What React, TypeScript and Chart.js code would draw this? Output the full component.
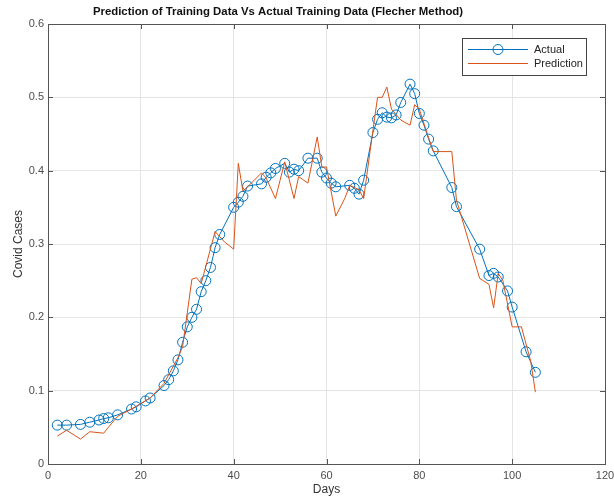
import React, { useEffect, useRef } from "react";
import { Chart, registerables } from "chart.js";

Chart.register(...registerables);

const chartTitle = "Prediction of Training Data Vs Actual Training Data (Flecher Method)";
const xTitle = "Days";
const yTitle = "Covid Cases";
const seriesNames = ["Actual", "Prediction"];

const actualDays = [2, 4, 7, 9, 11, 12, 13, 15, 18, 19, 21, 22, 25, 26, 27, 28, 29, 30, 31, 32, 33, 34, 35, 36, 37, 40, 41, 42, 43, 46, 47, 48, 49, 51, 52, 53, 54, 56, 58, 59, 60, 61, 62, 65, 66, 67, 68, 70, 71, 72, 73, 74, 75, 76, 78, 79, 80, 81, 82, 83, 87, 88, 93, 95, 96, 97, 99, 100, 103, 105];
const actualValues = [0.053, 0.053, 0.054, 0.057, 0.06, 0.062, 0.063, 0.067, 0.075, 0.078, 0.086, 0.09, 0.107, 0.115, 0.127, 0.142, 0.166, 0.187, 0.2, 0.211, 0.235, 0.25, 0.268, 0.295, 0.313, 0.35, 0.357, 0.365, 0.379, 0.382, 0.391, 0.397, 0.403, 0.41, 0.398, 0.402, 0.4, 0.417, 0.417, 0.398, 0.39, 0.383, 0.378, 0.38, 0.376, 0.368, 0.387, 0.452, 0.47, 0.479, 0.473, 0.472, 0.476, 0.493, 0.518, 0.505, 0.478, 0.462, 0.443, 0.427, 0.377, 0.351, 0.293, 0.257, 0.26, 0.255, 0.236, 0.214, 0.153, 0.125];

const predDays = [2, 4, 7, 9, 12, 13, 15, 18, 22, 25, 28, 29, 31, 32, 33, 36, 38, 40, 41, 42, 43, 46, 47, 49, 51, 53, 54, 56, 58, 59, 60, 62, 64, 65, 67, 68, 70, 71, 72, 73, 74, 76, 78, 79, 80, 81, 83, 87, 88, 93, 95, 96, 97, 98, 100, 102, 104, 105];
const predValues = [0.038, 0.046, 0.034, 0.044, 0.042, 0.05, 0.065, 0.075, 0.09, 0.11, 0.145, 0.16, 0.252, 0.254, 0.246, 0.317, 0.303, 0.293, 0.41, 0.372, 0.378, 0.397, 0.39, 0.362, 0.412, 0.362, 0.392, 0.383, 0.446, 0.405, 0.405, 0.338, 0.363, 0.38, 0.374, 0.362, 0.455, 0.5, 0.5, 0.514, 0.484, 0.469, 0.462, 0.49, 0.484, 0.464, 0.426, 0.426, 0.36, 0.253, 0.245, 0.213, 0.26, 0.25, 0.187, 0.187, 0.14, 0.098];

const xTicks = [0, 20, 40, 60, 80, 100, 120];
const yTicks = [0, 0.1, 0.2, 0.3, 0.4, 0.5, 0.6];

const BLUE = "#0072BD";
const ORANGE = "#D95319";
const FONT = "'Liberation Sans', Arial, sans-serif";

const decorPlugin = {
  id: "decor",
  afterDraw(chart: any) {
    const { ctx, chartArea: a, scales } = chart;
    ctx.save();
    ctx.strokeStyle = "#555";
    ctx.lineWidth = 1;
    ctx.strokeRect(Math.round(a.left) + 0.5, Math.round(a.top) + 0.5, Math.round(a.right - a.left), Math.round(a.bottom - a.top));
    ctx.beginPath();
    xTicks.forEach((t) => {
      const x = Math.round(scales.x.getPixelForValue(t)) + 0.5;
      ctx.moveTo(x, a.bottom);
      ctx.lineTo(x, a.bottom - 5);
      ctx.moveTo(x, a.top);
      ctx.lineTo(x, a.top + 5);
    });
    yTicks.forEach((t) => {
      const y = Math.round(scales.y.getPixelForValue(t)) + 0.5;
      ctx.moveTo(a.left, y);
      ctx.lineTo(a.left + 5, y);
      ctx.moveTo(a.right, y);
      ctx.lineTo(a.right - 5, y);
    });
    ctx.stroke();
    ctx.fillStyle = "#111";
    ctx.font = `bold 11.4px ${FONT}`;
    ctx.textAlign = "center";
    ctx.textBaseline = "middle";
    ctx.fillText(chartTitle, 278, 12);
    const lx = 462, ly = 38, lw = 124, lh = 37;
    ctx.fillStyle = "#fff";
    ctx.fillRect(lx, ly, lw, lh);
    ctx.strokeStyle = "#444";
    ctx.strokeRect(lx + 0.5, ly + 0.5, lw, lh);
    const rows = [
      { name: seriesNames[0], color: BLUE, marker: true, y: 49 },
      { name: seriesNames[1], color: ORANGE, marker: false, y: 63 },
    ];
    rows.forEach((r) => {
      ctx.strokeStyle = r.color;
      ctx.lineWidth = 1;
      ctx.beginPath();
      ctx.moveTo(468, r.y + 0.5);
      ctx.lineTo(528, r.y + 0.5);
      ctx.stroke();
      if (r.marker) {
        ctx.beginPath();
        ctx.arc(498, r.y + 0.5, 5, 0, Math.PI * 2);
        ctx.stroke();
      }
      ctx.fillStyle = "#222";
      ctx.font = `11px ${FONT}`;
      ctx.textAlign = "left";
      ctx.textBaseline = "middle";
      ctx.fillText(r.name, 534, r.y + 1);
    });
    ctx.restore();
  },
};

export default function App() {
  const ref = useRef<HTMLCanvasElement | null>(null);
  useEffect(() => {
    if (!ref.current) return;
    const chart = new Chart(ref.current, {
      type: "line",
      data: {
        datasets: [
          {
            label: seriesNames[0],
            data: actualDays.map((d, i) => ({ x: d, y: actualValues[i] })),
            borderColor: BLUE,
            backgroundColor: "rgba(0,0,0,0)",
            borderWidth: 1,
            pointRadius: 5,
            pointBorderWidth: 1,
            pointBorderColor: BLUE,
            pointBackgroundColor: "rgba(0,0,0,0)",
            tension: 0,
            order: 2,
          },
          {
            label: seriesNames[1],
            data: predDays.map((d, i) => ({ x: d, y: predValues[i] })),
            borderColor: ORANGE,
            backgroundColor: "rgba(0,0,0,0)",
            borderWidth: 1,
            pointRadius: 0,
            tension: 0,
            order: 1,
          },
        ],
      },
      options: {
        animation: false,
        responsive: false,
        maintainAspectRatio: false,
        layout: { padding: { left: 0, right: 9, top: 24, bottom: 0 } },
        plugins: { legend: { display: false }, title: { display: false }, tooltip: { enabled: false } },
        scales: {
          x: {
            type: "linear",
            min: 0,
            max: 120,
            afterBuildTicks: (s: any) => { s.ticks = xTicks.map((v) => ({ value: v })); },
            afterFit: (s: any) => { s.height = 36; s.paddingRight = 0; },
            grid: { color: "#e5e5e5", drawTicks: false },
            border: { display: false },
            ticks: { color: "#4d4d4d", font: { family: FONT, size: 11 }, padding: 5, maxRotation: 0 },
            title: { display: true, text: xTitle, color: "#333", font: { family: FONT, size: 12 }, padding: { top: 1, bottom: 3 } },
          },
          y: {
            type: "linear",
            min: 0,
            max: 0.6,
            afterBuildTicks: (s: any) => { s.ticks = yTicks.map((v) => ({ value: v })); },
            afterFit: (s: any) => { s.width = 48; },
            grid: { color: "#e5e5e5", drawTicks: false },
            border: { display: false },
            ticks: { color: "#4d4d4d", font: { family: FONT, size: 11 }, padding: 4, callback: (v: any) => String(v) },
            title: { display: true, text: yTitle, color: "#333", font: { family: FONT, size: 12 }, padding: { top: 11, bottom: 4 } },
          },
        },
      },
      plugins: [decorPlugin],
    } as any);
    return () => chart.destroy();
  }, []);
  return (
    <div style={{ position: "absolute", left: 0, top: 0, width: 614, height: 500, background: "#fff" }}>
      <canvas ref={ref} width={614} height={500} style={{ width: 614, height: 500 }} />
    </div>
  );
}
